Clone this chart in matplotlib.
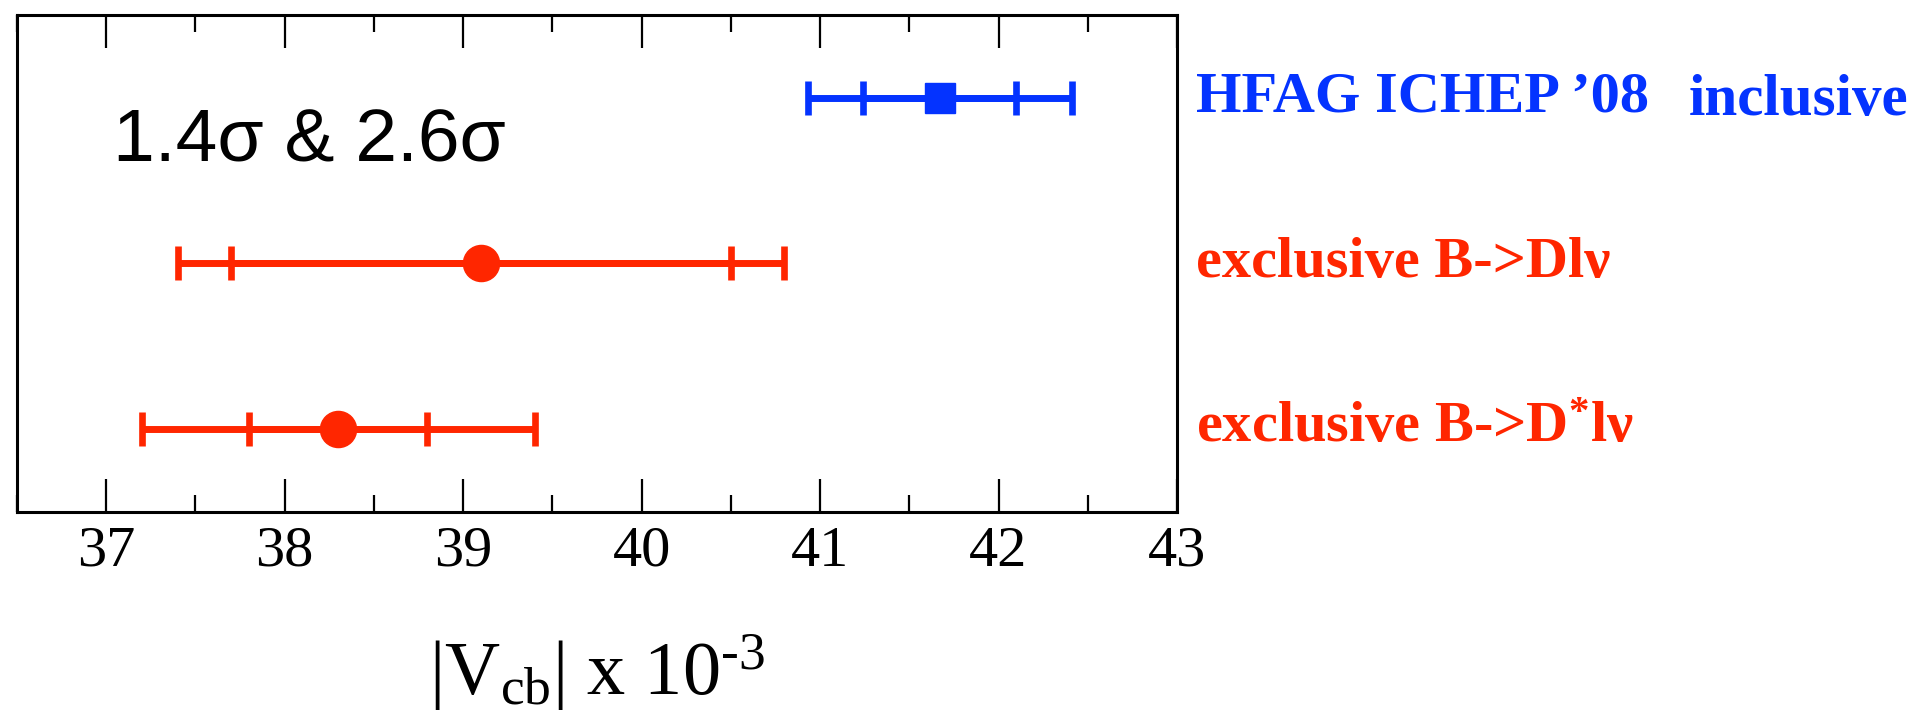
import matplotlib
matplotlib.use("Agg")
import matplotlib.pyplot as plt
from matplotlib.ticker import MultipleLocator

# ---- data ----
labels = ["HFAG ICHEP \u201908", "exclusive B->Dl\u03bd", "exclusive B->D$^{\\mathbf{*}}$l\u03bd"]
extra_label = "inclusive"
rows = [3, 2, 1]
centers = [41.67, 39.10, 38.30]
inner_err = [0.43, 1.40, 0.50]
outer_err = [0.74, 1.70, 1.10]
markers = ["s", "o", "o"]
colors = ["#0433FF", "#FF2600", "#FF2600"]
annotation = "1.4\u03c3 & 2.6\u03c3"
xticks = [37, 38, 39, 40, 41, 42, 43]

plt.rcParams["font.family"] = ["Liberation Serif", "DejaVu Serif"]
plt.rcParams["mathtext.fontset"] = "custom"
plt.rcParams["mathtext.rm"] = "Liberation Serif"
plt.rcParams["mathtext.it"] = "Liberation Serif:italic"
plt.rcParams["mathtext.bf"] = "Liberation Serif:bold"

W, H = 1923, 724
fig = plt.figure(figsize=(W / 100, H / 100), dpi=100)
L, R, T, B = 17, 1177, 15, 512
ax = fig.add_axes([L / W, 1 - B / H, (R - L) / W, (B - T) / H])

for y, c, ie, oe, m, col in zip(rows, centers, inner_err, outer_err, markers, colors):
    ms = 21 if m == "s" else 26
    ax.errorbar(c, y, xerr=oe, fmt="none", ecolor=col, elinewidth=5,
                capsize=12, capthick=4.8, zorder=2)
    ax.errorbar(c, y, xerr=ie, fmt="none", ecolor=col, elinewidth=5,
                capsize=12, capthick=4.8, zorder=2)
    ax.plot([c], [y], marker=m, ms=ms, color=col, mec=col, ls="none", zorder=3)

ax.set_xlim(36.5, 43)
ax.set_ylim(0.5, 3.5)
ax.set_xticks(xticks)
ax.xaxis.set_minor_locator(MultipleLocator(0.5))
ax.tick_params(axis="x", which="both", direction="in", top=True, bottom=True,
               labelsize=42, pad=10)
ax.tick_params(axis="x", which="major", length=24, width=1.6)
ax.tick_params(axis="x", which="minor", length=12, width=1.6)
ax.tick_params(axis="y", left=False, right=False, labelleft=False)
for s in ax.spines.values():
    s.set_linewidth(2.2)

ax.set_xlabel("|V$_{\\mathrm{cb}}$| x 10$^{\\text{-}3}$", fontsize=55)
ax.xaxis.label.set_va("baseline")
ax.xaxis.set_label_coords(0.5, (B - 695) / (B - T))

ax.text((113 - L) / (R - L), (B - 162) / (B - T), annotation,
        transform=ax.transAxes, fontsize=54, va="baseline", ha="left",
        family=["Liberation Sans", "DejaVu Sans"], color="black")

for y, lab, col in zip(rows, labels, colors):
    ax.annotate(lab, xy=(1, y), xycoords=("axes fraction", "data"),
                xytext=(13.7, -9.6), textcoords="offset points",
                va="baseline", ha="left", fontsize=42, fontweight="bold",
                color=col, annotation_clip=False)
ax.annotate(extra_label, xy=(1, rows[0]), xycoords=("axes fraction", "data"),
            xytext=(368.6, -12.5), textcoords="offset points",
            va="baseline", ha="left", fontsize=42.5, fontweight="bold",
            color=colors[0], annotation_clip=False)

fig.savefig("out.png", dpi=100)
